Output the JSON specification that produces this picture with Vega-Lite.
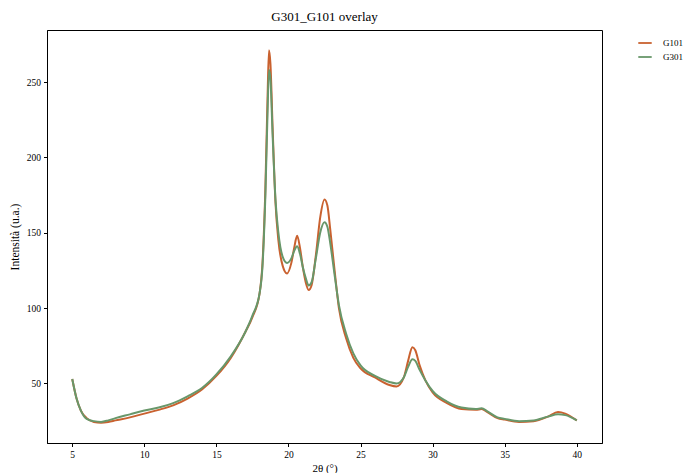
{
  "$schema": "https://vega.github.io/schema/vega-lite/v6.json",
  "width": 555,
  "height": 413,
  "autosize": "none",
  "padding": {"left": 47, "top": 30, "right": 83, "bottom": 30},
  "background": "white",
  "title": {"text": "G301_G101 overlay", "font": "Liberation Serif", "fontSize": 13, "fontWeight": "normal", "color": "black", "offset": 6},
  "config": {
    "font": "Liberation Serif",
    "view": {"stroke": "black", "strokeWidth": 1}
  },
  "data": {"values": [
    {"x":5,"y":53,"s":"G101"},{"x":5.3,"y":40,"s":"G101"},{"x":5.6,"y":32,"s":"G101"},{"x":6,"y":27,"s":"G101"},{"x":6.5,"y":24.5,"s":"G101"},{"x":7,"y":24,"s":"G101"},{"x":7.5,"y":24.5,"s":"G101"},{"x":8,"y":25.5,"s":"G101"},{"x":9,"y":27.5,"s":"G101"},{"x":10,"y":30,"s":"G101"},{"x":11,"y":32.5,"s":"G101"},{"x":12,"y":35.5,"s":"G101"},{"x":13,"y":40,"s":"G101"},{"x":14,"y":46,"s":"G101"},{"x":15,"y":55,"s":"G101"},{"x":16,"y":67,"s":"G101"},{"x":17,"y":84,"s":"G101"},{"x":17.5,"y":94,"s":"G101"},{"x":18,"y":110,"s":"G101"},{"x":18.2,"y":130,"s":"G101"},{"x":18.4,"y":180,"s":"G101"},{"x":18.55,"y":240,"s":"G101"},{"x":18.65,"y":271,"s":"G101"},{"x":18.75,"y":262,"s":"G101"},{"x":18.9,"y":220,"s":"G101"},{"x":19.1,"y":170,"s":"G101"},{"x":19.3,"y":145,"s":"G101"},{"x":19.6,"y":128,"s":"G101"},{"x":19.9,"y":123,"s":"G101"},{"x":20.2,"y":130,"s":"G101"},{"x":20.4,"y":140,"s":"G101"},{"x":20.6,"y":148,"s":"G101"},{"x":20.8,"y":140,"s":"G101"},{"x":21.0,"y":127,"s":"G101"},{"x":21.2,"y":117,"s":"G101"},{"x":21.4,"y":112,"s":"G101"},{"x":21.6,"y":115,"s":"G101"},{"x":21.9,"y":135,"s":"G101"},{"x":22.2,"y":160,"s":"G101"},{"x":22.5,"y":172,"s":"G101"},{"x":22.7,"y":168,"s":"G101"},{"x":22.9,"y":152,"s":"G101"},{"x":23.2,"y":125,"s":"G101"},{"x":23.5,"y":100,"s":"G101"},{"x":24,"y":80,"s":"G101"},{"x":24.5,"y":67,"s":"G101"},{"x":25,"y":60,"s":"G101"},{"x":26,"y":54,"s":"G101"},{"x":27,"y":49,"s":"G101"},{"x":27.5,"y":48,"s":"G101"},{"x":28,"y":54,"s":"G101"},{"x":28.3,"y":65,"s":"G101"},{"x":28.6,"y":74,"s":"G101"},{"x":28.8,"y":72,"s":"G101"},{"x":29.1,"y":62,"s":"G101"},{"x":29.5,"y":52,"s":"G101"},{"x":30,"y":44,"s":"G101"},{"x":31,"y":37,"s":"G101"},{"x":32,"y":33,"s":"G101"},{"x":33,"y":32.5,"s":"G101"},{"x":33.4,"y":33,"s":"G101"},{"x":33.8,"y":31,"s":"G101"},{"x":34.5,"y":27,"s":"G101"},{"x":35,"y":26,"s":"G101"},{"x":36,"y":24.5,"s":"G101"},{"x":37,"y":25,"s":"G101"},{"x":38,"y":28,"s":"G101"},{"x":38.7,"y":31,"s":"G101"},{"x":39.2,"y":30,"s":"G101"},{"x":40,"y":25.5,"s":"G101"},
    {"x":5,"y":53,"s":"G301"},{"x":5.3,"y":40,"s":"G301"},{"x":5.6,"y":32,"s":"G301"},{"x":6,"y":26.5,"s":"G301"},{"x":6.5,"y":25,"s":"G301"},{"x":7,"y":24.5,"s":"G301"},{"x":7.5,"y":25.5,"s":"G301"},{"x":8,"y":27,"s":"G301"},{"x":9,"y":29.5,"s":"G301"},{"x":10,"y":32,"s":"G301"},{"x":11,"y":34,"s":"G301"},{"x":12,"y":37,"s":"G301"},{"x":13,"y":41.5,"s":"G301"},{"x":14,"y":47,"s":"G301"},{"x":15,"y":56,"s":"G301"},{"x":16,"y":68,"s":"G301"},{"x":17,"y":84,"s":"G301"},{"x":17.5,"y":95,"s":"G301"},{"x":18,"y":110,"s":"G301"},{"x":18.2,"y":128,"s":"G301"},{"x":18.4,"y":175,"s":"G301"},{"x":18.55,"y":230,"s":"G301"},{"x":18.65,"y":258,"s":"G301"},{"x":18.75,"y":252,"s":"G301"},{"x":18.9,"y":215,"s":"G301"},{"x":19.1,"y":172,"s":"G301"},{"x":19.3,"y":150,"s":"G301"},{"x":19.6,"y":134,"s":"G301"},{"x":19.9,"y":130,"s":"G301"},{"x":20.2,"y":133,"s":"G301"},{"x":20.4,"y":138,"s":"G301"},{"x":20.6,"y":141,"s":"G301"},{"x":20.8,"y":136,"s":"G301"},{"x":21.0,"y":127,"s":"G301"},{"x":21.2,"y":120,"s":"G301"},{"x":21.4,"y":115,"s":"G301"},{"x":21.6,"y":117,"s":"G301"},{"x":21.9,"y":133,"s":"G301"},{"x":22.2,"y":150,"s":"G301"},{"x":22.5,"y":157,"s":"G301"},{"x":22.7,"y":154,"s":"G301"},{"x":22.9,"y":143,"s":"G301"},{"x":23.2,"y":122,"s":"G301"},{"x":23.5,"y":102,"s":"G301"},{"x":24,"y":83,"s":"G301"},{"x":24.5,"y":70,"s":"G301"},{"x":25,"y":62,"s":"G301"},{"x":26,"y":55,"s":"G301"},{"x":27,"y":51,"s":"G301"},{"x":27.5,"y":50,"s":"G301"},{"x":28,"y":54,"s":"G301"},{"x":28.3,"y":61,"s":"G301"},{"x":28.6,"y":66,"s":"G301"},{"x":28.8,"y":65,"s":"G301"},{"x":29.1,"y":59,"s":"G301"},{"x":29.5,"y":52,"s":"G301"},{"x":30,"y":45,"s":"G301"},{"x":31,"y":38,"s":"G301"},{"x":32,"y":34,"s":"G301"},{"x":33,"y":33,"s":"G301"},{"x":33.4,"y":33.5,"s":"G301"},{"x":33.8,"y":31.5,"s":"G301"},{"x":34.5,"y":27.5,"s":"G301"},{"x":35,"y":26.5,"s":"G301"},{"x":36,"y":25,"s":"G301"},{"x":37,"y":25.5,"s":"G301"},{"x":38,"y":28,"s":"G301"},{"x":38.7,"y":29.5,"s":"G301"},{"x":39.2,"y":29,"s":"G301"},{"x":40,"y":25.5,"s":"G301"}
  ]},
  "mark": {"type": "line", "strokeWidth": 2, "interpolate": "monotone"},
  "encoding": {
    "x": {"field": "x", "type": "quantitative",
      "scale": {"domain": [3.25, 41.75], "nice": false, "zero": false},
      "axis": {"title": "2θ (°)", "values": [5,10,15,20,25,30,35,40], "grid": false, "domainColor": "black", "tickColor": "black", "tickSize": 3.5, "labelFontSize": 9.5, "labelColor": "black", "titleFontSize": 11, "titleFontWeight": "normal", "titleColor": "black", "labelPadding": 3, "titlePadding": 3}},
    "y": {"field": "y", "type": "quantitative",
      "scale": {"domain": [10.5, 284.5], "nice": false, "zero": false},
      "axis": {"title": "Intensità (u.a.)", "values": [50,100,150,200,250], "grid": false, "domainColor": "black", "tickColor": "black", "tickSize": 3.5, "labelFontSize": 9.5, "labelColor": "black", "titleFontSize": 11.5, "titleFontWeight": "normal", "titleColor": "black", "labelPadding": 3, "titlePadding": 6}},
    "color": {"field": "s", "type": "nominal",
      "scale": {"domain": ["G101", "G301"], "range": ["#c9612f", "#68976a"]},
      "legend": {"title": null, "orient": "none", "legendX": 590, "legendY": 5, "symbolType": "stroke", "symbolSize": 180, "symbolStrokeWidth": 1.8, "labelFontSize": 9, "labelColor": "black", "labelOffset": 10, "rowPadding": 1, "padding": 0}}
  }
}
